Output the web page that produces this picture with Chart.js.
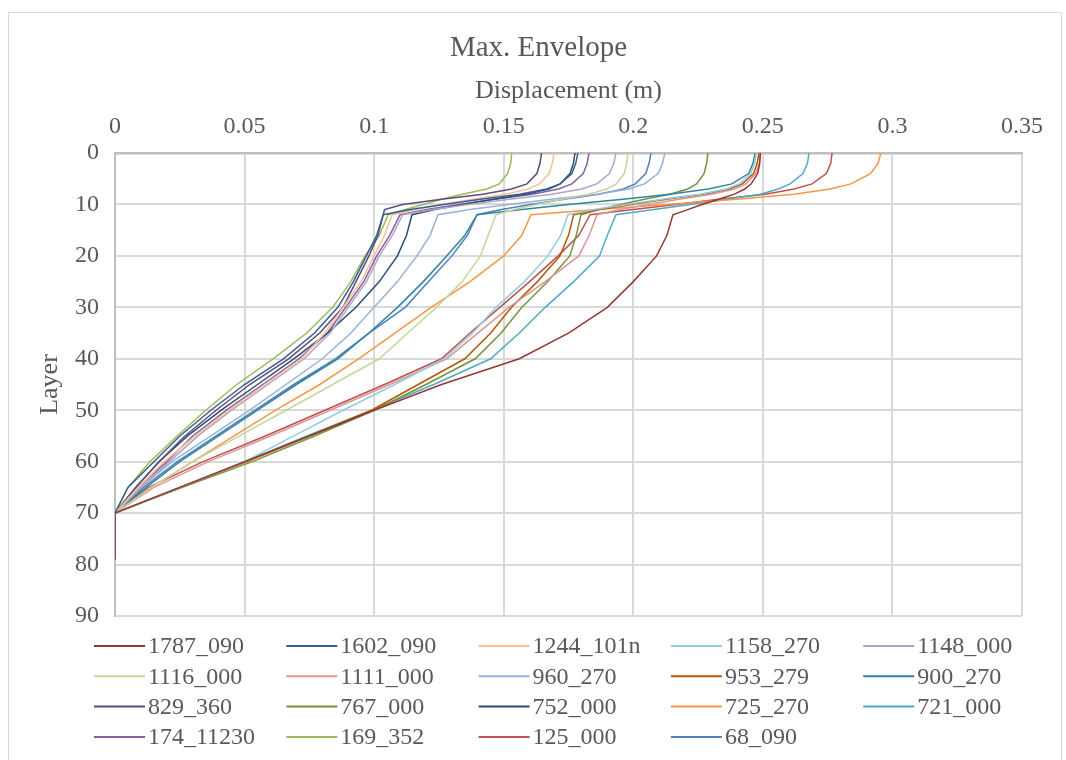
<!DOCTYPE html>
<html>
<head>
<meta charset="utf-8">
<script src="https://cdn.jsdelivr.net/npm/chart.js@4.4.0/dist/chart.umd.min.js"></script>
<style>
  html, body { margin: 0; padding: 0; background: #fff; }
  #wrap { position: relative; width: 1066px; height: 760px; }
</style>
</head>
<body>
<div id="wrap"><canvas id="chart" width="1066" height="760"></canvas></div>
<script>
// layer numbers (y axis) shared by every record
const layers = [0, 2, 4, 6, 7, 8, 9, 10, 11, 12, 16, 20, 25, 30, 35, 40, 45, 50, 55, 60, 65, 70, 79];

// max displacement envelope (m) per record, one value per layer above
const s1787_090  = [0.249, 0.2488, 0.248, 0.2455, 0.243, 0.239, 0.233, 0.2265, 0.221, 0.2153, 0.213, 0.209, 0.2, 0.19, 0.175, 0.156, 0.126, 0.1, 0.075, 0.05, 0.025, 0, 0];
const s1602_090  = [0.1786, 0.1778, 0.1763, 0.1718, 0.1666, 0.1561, 0.1411, 0.1268, 0.114, 0.1035, 0.101, 0.097, 0.092, 0.086, 0.077, 0.065, 0.05, 0.037, 0.025, 0.015, 0.005, 0, 0];
const s1244_101n = [0.1694, 0.1688, 0.1675, 0.1638, 0.1594, 0.1507, 0.1382, 0.1263, 0.1157, 0.107, 0.104, 0.1, 0.095, 0.088, 0.081, 0.072, 0.058, 0.044, 0.031, 0.019, 0.009, 0, 0];
const s1158_270  = [0.2475, 0.2468, 0.2453, 0.241, 0.2359, 0.2257, 0.2112, 0.1973, 0.185, 0.1748, 0.172, 0.167, 0.158, 0.147, 0.138, 0.127, 0.108, 0.088, 0.069, 0.05, 0.025, 0, 0];
const s1148_000  = [0.1933, 0.1925, 0.1908, 0.1859, 0.1801, 0.1686, 0.1522, 0.1365, 0.1225, 0.111, 0.107, 0.102, 0.097, 0.09, 0.083, 0.073, 0.059, 0.045, 0.032, 0.021, 0.01, 0, 0];
const s1116_000  = [0.198, 0.1975, 0.1965, 0.1934, 0.1898, 0.1827, 0.1725, 0.1628, 0.1541, 0.147, 0.144, 0.141, 0.134, 0.124, 0.113, 0.102, 0.084, 0.066, 0.048, 0.03, 0.014, 0, 0];
const s1111_000  = [0.2492, 0.2486, 0.2473, 0.2435, 0.2391, 0.2302, 0.2176, 0.2056, 0.1948, 0.186, 0.183, 0.179, 0.166, 0.152, 0.14, 0.128, 0.106, 0.083, 0.06, 0.036, 0.015, 0, 0];
const s960_270   = [0.2122, 0.2113, 0.2096, 0.2043, 0.1982, 0.1859, 0.1684, 0.1518, 0.1369, 0.1246, 0.1216, 0.1165, 0.109, 0.1, 0.091, 0.08, 0.066, 0.052, 0.037, 0.022, 0.01, 0, 0];
const s953_279   = [0.2485, 0.2478, 0.2464, 0.2421, 0.2371, 0.2271, 0.2128, 0.1992, 0.187, 0.177, 0.175, 0.1717, 0.163, 0.153, 0.145, 0.135, 0.117, 0.099, 0.075, 0.051, 0.025, 0, 0];
const s900_270   = [0.247, 0.2462, 0.2445, 0.238, 0.229, 0.214, 0.196, 0.175, 0.157, 0.1397, 0.135, 0.128, 0.119, 0.109, 0.098, 0.086, 0.07, 0.055, 0.04, 0.025, 0.012, 0, 0];
const s829_360   = [0.1646, 0.164, 0.1628, 0.159, 0.153, 0.142, 0.126, 0.111, 0.104, 0.1035, 0.1015, 0.098, 0.093, 0.088, 0.079, 0.067, 0.052, 0.039, 0.027, 0.017, 0.008, 0, 0];
const s767_000   = [0.2288, 0.2283, 0.2273, 0.2244, 0.221, 0.2141, 0.2043, 0.195, 0.1867, 0.1798, 0.178, 0.1755, 0.167, 0.157, 0.149, 0.139, 0.12, 0.1, 0.077, 0.053, 0.026, 0, 0];
const s752_000   = [0.1775, 0.1769, 0.1756, 0.1718, 0.1674, 0.1586, 0.1461, 0.1341, 0.1234, 0.1146, 0.1125, 0.109, 0.102, 0.093, 0.082, 0.069, 0.055, 0.041, 0.028, 0.017, 0.008, 0, 0];
const s725_270   = [0.2955, 0.2945, 0.2915, 0.284, 0.276, 0.262, 0.24, 0.213, 0.186, 0.1605, 0.157, 0.15, 0.137, 0.122, 0.108, 0.094, 0.079, 0.062, 0.046, 0.03, 0.014, 0, 0];
const s721_000   = [0.2678, 0.2672, 0.2655, 0.2605, 0.256, 0.249, 0.236, 0.222, 0.208, 0.1933, 0.19, 0.187, 0.177, 0.166, 0.156, 0.145, 0.123, 0.099, 0.074, 0.05, 0.025, 0, 0];
const s174_11230 = [0.1829, 0.1822, 0.1807, 0.1763, 0.1712, 0.161, 0.1465, 0.1326, 0.1202, 0.11, 0.106, 0.101, 0.096, 0.089, 0.082, 0.071, 0.057, 0.043, 0.03, 0.02, 0.009, 0, 0];
const s169_352   = [0.1531, 0.1527, 0.1515, 0.1483, 0.1435, 0.134, 0.126, 0.119, 0.112, 0.1054, 0.102, 0.0965, 0.091, 0.084, 0.074, 0.061, 0.047, 0.035, 0.024, 0.0135, 0.005, 0, 0];
const s125_000   = [0.2767, 0.2762, 0.2745, 0.269, 0.262, 0.251, 0.233, 0.2165, 0.2, 0.1833, 0.179, 0.171, 0.16, 0.1485, 0.137, 0.126, 0.104, 0.081, 0.058, 0.034, 0.013, 0, 0];
const s68_090    = [0.2068, 0.2061, 0.2048, 0.2008, 0.1961, 0.1867, 0.1733, 0.1605, 0.1491, 0.1397, 0.136, 0.13, 0.121, 0.112, 0.098, 0.085, 0.069, 0.054, 0.039, 0.024, 0.011, 0, 0];

const seriesNames = ['1787_090', '1602_090', '1244_101n', '1158_270', '1148_000', '1116_000', '1111_000',
  '960_270', '953_279', '900_270', '829_360', '767_000', '752_000', '725_270', '721_000',
  '174_11230', '169_352', '125_000', '68_090'];
const seriesValues = [s1787_090, s1602_090, s1244_101n, s1158_270, s1148_000, s1116_000, s1111_000,
  s960_270, s953_279, s900_270, s829_360, s767_000, s752_000, s725_270, s721_000,
  s174_11230, s169_352, s125_000, s68_090];

const xTickValues = [0, 0.05, 0.1, 0.15, 0.2, 0.25, 0.3, 0.35];
const xTickLabels = ['0', '0.05', '0.1', '0.15', '0.2', '0.25', '0.3', '0.35'];
const yTickValues = [0, 10, 20, 30, 40, 50, 60, 70, 80, 90];
const yTickLabels = ['0', '10', '20', '30', '40', '50', '60', '70', '80', '90'];

const colors = ['#953735', '#376092', '#FAC090', '#93CDDD', '#B3A2C7', '#C3D69B', '#D99694',
  '#95B3D7', '#B65708', '#31859C', '#604A7B', '#77933C', '#2C4D75', '#F79646', '#4BACC6',
  '#8064A2', '#9BBB59', '#C0504D', '#4F81BD'];

const serif = "'Times New Roman', 'Liberation Serif', serif";
const grey = '#595959';

const datasets = seriesNames.map((name, i) => ({
  label: name,
  data: layers.map((l, j) => ({ x: seriesValues[i][j], y: l })),
  borderColor: colors[i],
  backgroundColor: colors[i],
  borderWidth: 1.5,
  pointRadius: 0,
  showLine: true,
  tension: 0
}));

// excel style legend: 5 equal columns under the plot
const gridLegend = {
  id: 'gridLegend',
  afterDraw(chart) {
    const ctx = chart.ctx;
    ctx.save();
    ctx.font = '24px ' + serif;
    ctx.textBaseline = 'middle';
    ctx.textAlign = 'left';
    chart.data.datasets.forEach((ds, i) => {
      const col = i % 5, row = Math.floor(i / 5);
      const x = 94 + col * 192.3;
      const y = 646 + row * 30.3;
      ctx.strokeStyle = ds.borderColor;
      ctx.lineWidth = 2;
      ctx.beginPath();
      ctx.moveTo(x, y);
      ctx.lineTo(x + 51, y);
      ctx.stroke();
      ctx.fillStyle = grey;
      ctx.fillText(ds.label, x + 54, y + 1);
    });
    ctx.restore();
  }
};

const frame = {
  id: 'frame',
  beforeDraw(chart) {
    const ctx = chart.ctx;
    ctx.save();
    ctx.fillStyle = '#fff';
    ctx.fillRect(0, 0, chart.width, chart.height);
    ctx.strokeStyle = '#d9d9d9';
    ctx.lineWidth = 1;
    ctx.strokeRect(8.5, 12.5, 1053, 800);
    ctx.restore();
  }
};

new Chart(document.getElementById('chart'), {
  type: 'scatter',
  data: { datasets },
  options: {
    responsive: false,
    animation: false,
    layout: { padding: { left: 11, top: 31, right: 0, bottom: 144 } },
    plugins: {
      legend: { display: false },
      tooltip: { enabled: false },
      title: {
        display: true,
        text: 'Max. Envelope',
        color: grey,
        font: { family: serif, size: 29, weight: 'normal' },
        padding: 0
      }
    },
    scales: {
      x: {
        type: 'linear',
        position: 'top',
        min: 0,
        max: 0.35,
        afterBuildTicks: s => { s.ticks = xTickValues.map(v => ({ value: v })); },
        afterFit: s => { s.height = 87.2; },
        ticks: {
          callback: (v, i) => xTickLabels[i],
          color: grey,
          font: { family: serif, size: 24 },
          padding: 12,
          maxRotation: 0,
          autoSkip: false
        },
        grid: { color: '#d9d9d9', lineWidth: 2, drawTicks: false },
        border: { color: '#bfbfbf', width: 2.5 },
        title: {
          display: true,
          text: 'Displacement (m)',
          color: grey,
          font: { family: serif, size: 26 },
          padding: { top: 9.6, bottom: 0 }
        }
      },
      y: {
        type: 'linear',
        position: 'left',
        reverse: true,
        min: 0,
        max: 90,
        afterBuildTicks: s => { s.ticks = yTickValues.map(v => ({ value: v })); },
        afterFit: s => { s.width = 104; },
        ticks: {
          callback: (v, i) => yTickLabels[i],
          color: grey,
          font: { family: serif, size: 24 },
          padding: 16,
          autoSkip: false
        },
        grid: { color: '#d9d9d9', lineWidth: 2, drawTicks: false },
        border: { color: '#bfbfbf', width: 2 },
        title: {
          display: true,
          text: 'Layer',
          color: grey,
          font: { family: serif, size: 26 },
          padding: { top: 23.4, bottom: 0 }
        }
      },
      spacer: {
        type: 'linear',
        position: 'right',
        display: true,
        afterFit: s => { s.width = 44; },
        ticks: { display: false },
        grid: { display: false, drawTicks: false },
        border: { display: false }
      }
    }
  },
  plugins: [frame, gridLegend]
});
</script>
</body>
</html>
